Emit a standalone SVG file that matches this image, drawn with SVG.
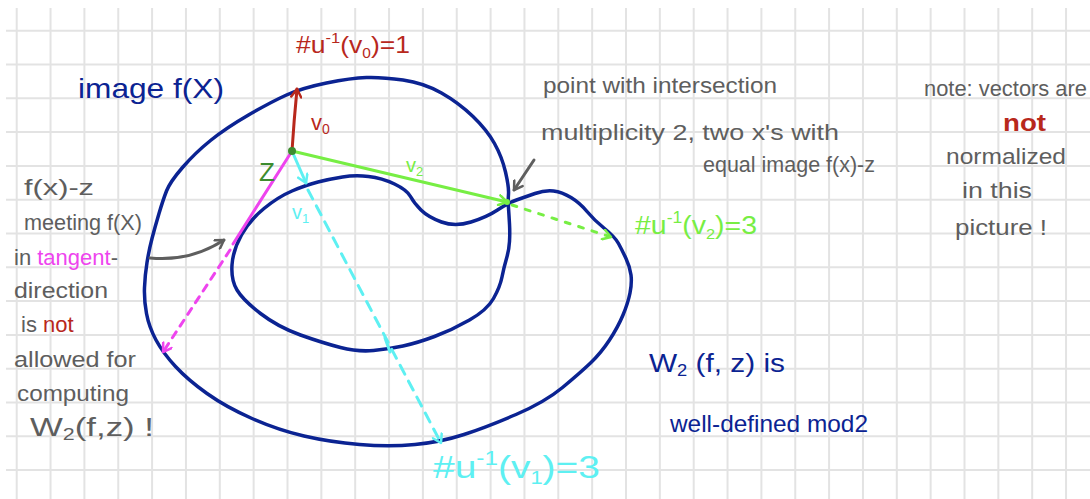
<svg xmlns="http://www.w3.org/2000/svg" width="1090" height="499" viewBox="0 0 1090 499">
<defs>
<style>
.grid{stroke:#e3e3e3;stroke-width:2;fill:none}
.curve{stroke:#0b2392;stroke-width:3.5;fill:none;stroke-linejoin:round;stroke-linecap:round}
.t{font-family:"Liberation Sans","DejaVu Sans",sans-serif}
.gray{fill:#5e5e5e}
.navy{fill:#0b2392}
.red{fill:#b8281c}
.lime{fill:#77ee44}
.cyan{fill:#5ef0f2}
.mag{fill:#ee44ee}
.vec{fill:none;stroke-width:3;stroke-linecap:round}
</style>
<marker id="ar-red" viewBox="0 0 12 12" refX="10" refY="6" markerWidth="12" markerHeight="12" markerUnits="userSpaceOnUse" orient="auto"><path d="M2,1 L10,6 L2,11" fill="none" stroke="#b8281c" stroke-width="2.5" stroke-linecap="round" stroke-linejoin="round"/></marker>
<marker id="ar-lime" viewBox="0 0 12 12" refX="10" refY="6" markerWidth="12" markerHeight="12" markerUnits="userSpaceOnUse" orient="auto"><path d="M2,1 L10,6 L2,11" fill="none" stroke="#77ee44" stroke-width="2.5" stroke-linecap="round" stroke-linejoin="round"/></marker>
<marker id="ar-cyan" viewBox="0 0 12 12" refX="10" refY="6" markerWidth="12" markerHeight="12" markerUnits="userSpaceOnUse" orient="auto"><path d="M2,1 L10,6 L2,11" fill="none" stroke="#5ef0f2" stroke-width="2.5" stroke-linecap="round" stroke-linejoin="round"/></marker>
<marker id="ar-mag" viewBox="0 0 12 12" refX="10" refY="6" markerWidth="12" markerHeight="12" markerUnits="userSpaceOnUse" orient="auto"><path d="M2,1 L10,6 L2,11" fill="none" stroke="#ee44ee" stroke-width="2.5" stroke-linecap="round" stroke-linejoin="round"/></marker>
<marker id="ar-gray" viewBox="0 0 12 12" refX="10" refY="6" markerWidth="12" markerHeight="12" markerUnits="userSpaceOnUse" orient="auto"><path d="M2,1 L10,6 L2,11" fill="none" stroke="#5e5e5e" stroke-width="2.5" stroke-linecap="round" stroke-linejoin="round"/></marker>
</defs>
<rect width="1090" height="499" fill="#ffffff"/>
<g id="grid" class="grid">
<path d="M16.7,8V499M50.55,8V499M84.4,8V499M118.25,8V499M152.1,8V499M185.95,8V499M219.8,8V499M253.65,8V499M287.5,8V499M321.35,8V499M355.2,8V499M389.05,8V499M422.9,8V499M456.75,8V499M490.6,8V499M524.45,8V499M558.3,8V499M592.15,8V499M626,8V499M659.85,8V499M693.7,8V499M727.55,8V499M761.4,8V499M795.25,8V499M829.1,8V499M862.95,8V499M896.8,8V499M930.65,8V499M964.5,8V499M998.35,8V499M1032.2,8V499M1066.05,8V499"/>
<path d="M6,30.7H1090M6,64.5H1090M6,98.3H1090M6,132.1H1090M6,165.9H1090M6,199.7H1090M6,233.5H1090M6,267.3H1090M6,301.1H1090M6,334.9H1090M6,368.7H1090M6,402.5H1090M6,436.3H1090M6,470.1H1090"/>
</g>
<g id="image-curve">
<path class="curve" d="M508.5,208 Q508,201 508.5,194 Q509,187 505.5,172 Q502,157 494.5,143.5 Q487,130 473,116.5 Q459,103 441.5,93 Q424,83 403,80 Q382,77 366.5,77.5 Q351,78 326.5,83 Q302,88 286.5,95 Q271,102 248.5,115 Q226,128 210.5,140.5 Q195,153 182.5,167.5 Q170,182 166.5,191 Q163,200 159,213.5 Q155,227 152,238.5 Q149,250 147,262.5 Q145,275 144.5,287.5 Q144,300 146.5,313.5 Q149,327 156,340 Q163,353 175.5,366.5 Q188,380 207,393.5 Q226,407 252,418.5 Q278,430 304,436 Q330,442 359.5,444.5 Q389,447 415,444.5 Q441,442 464,434.5 Q487,427 516,414.5 Q545,402 562.5,387.5 Q580,373 590.5,363 Q601,353 609.5,340 Q618,327 623,315 Q628,303 630,293 Q632,283 631,275 Q630,267 626,258.5 Q622,250 618.5,243.5 Q615,237 604.5,228.5 Q594,220 587,211.5 Q580,203 571,197.5 Q562,192 553.5,191 Q545,190 535,193.5 Q525,197 516.5,200 Q508,203 497.5,210 Q487,217 471,222 Q455,227 441.5,222 Q428,217 421,210 Q414,203 410.5,196.5 Q407,190 394.5,184 Q382,178 368.5,176.5 Q355,175 342.5,177 Q330,179 318,182 Q306,185 292,191 Q278,197 264,208.5 Q250,220 241.5,235 Q233,250 232,265 Q231,280 237,290 Q243,300 260.5,313.5 Q278,327 300.5,335 Q323,343 340.5,347.5 Q358,352 373.5,350.5 Q389,349 403,346 Q417,343 434.5,336.5 Q452,330 469.5,320 Q487,310 493.5,298.5 Q500,287 502,277 Q504,267 506.5,258.5 Q509,250 509.5,241.5 Q510,233 509.5,224 Q509,215 508.5,208 Z"/>
</g>
<g id="connectors">
<path class="vec" stroke="#b8281c" d="M292,151 Q294,120 297,89" marker-end="url(#ar-red)"/>
<path class="vec" stroke="#77ee44" d="M292,151 L507,202" marker-end="url(#ar-lime)"/>
<path class="vec" stroke="#77ee44" stroke-dasharray="5 9" d="M512,205 L611,237" marker-end="url(#ar-lime)"/>
<path class="vec" stroke="#5ef0f2" d="M292,151 L306,183" marker-end="url(#ar-cyan)"/>
<path class="vec" stroke="#5ef0f2" stroke-dasharray="10 8" d="M308,190 L441,443" marker-end="url(#ar-cyan)"/>
<path class="vec" stroke="#5ef0f2" d="M385,338 L390,352"/>
<path class="vec" stroke="#ee44ee" d="M292,151 L233,244"/>
<path class="vec" stroke="#ee44ee" stroke-dasharray="7 7" d="M230,250 L163,352" marker-end="url(#ar-mag)"/>
<path class="vec" stroke="#5e5e5e" stroke-width="2.5" d="M150,258 Q190,262 224,240" marker-end="url(#ar-gray)"/>
<path class="vec" stroke="#5e5e5e" stroke-width="2.5" d="M534,160 L514,190" marker-end="url(#ar-gray)"/>
<circle cx="292" cy="151" r="4" fill="#3d8c2e"/>
<circle cx="507" cy="202" r="3" fill="#77ee44"/>
</g>
<g id="labels" class="t">
<text class="navy" x="78" y="98" font-size="28" textLength="146" lengthAdjust="spacingAndGlyphs">image f(X)</text>
<text class="red" x="296" y="53" font-size="24" textLength="114" lengthAdjust="spacingAndGlyphs">#u<tspan font-size="15" dy="-10">-1</tspan><tspan dy="10">(v</tspan><tspan font-size="14" dy="5">0</tspan><tspan dy="-5">)=1</tspan></text>
<text class="red" x="311" y="130" font-size="22">v<tspan font-size="14" dy="4">0</tspan></text>
<text x="259" y="181" font-size="26" fill="#3d8c2e">Z</text>
<text class="lime" x="406" y="172" font-size="20">v<tspan font-size="13" dy="4">2</tspan></text>
<text class="cyan" x="292" y="219" font-size="20">v<tspan font-size="13" dy="4">1</tspan></text>
<text class="lime" x="635" y="234" font-size="26" textLength="122" lengthAdjust="spacingAndGlyphs">#u<tspan font-size="16" dy="-11">-1</tspan><tspan dy="11">(v</tspan><tspan font-size="15" dy="5">2</tspan><tspan dy="-5">)=3</tspan></text>
<text class="cyan" x="433" y="478" font-size="32" textLength="167" lengthAdjust="spacingAndGlyphs">#u<tspan font-size="20" dy="-13">-1</tspan><tspan dy="13">(v</tspan><tspan font-size="18" dy="6">1</tspan><tspan dy="-6">)=3</tspan></text>
<g class="gray" font-size="22">
<text x="24" y="195" textLength="70" lengthAdjust="spacingAndGlyphs">f(x)-z</text>
<text x="24" y="230" textLength="118" lengthAdjust="spacingAndGlyphs">meeting f(X)</text>
<text x="14" y="265">in <tspan class="mag">tangent</tspan>-</text>
<text x="14" y="298" textLength="94" lengthAdjust="spacingAndGlyphs">direction</text>
<text x="21" y="332">is <tspan class="red">not</tspan></text>
<text x="14" y="367" textLength="122" lengthAdjust="spacingAndGlyphs">allowed for</text>
<text x="17" y="401" textLength="112" lengthAdjust="spacingAndGlyphs">computing</text>
<text x="30" y="436" font-size="26" textLength="124" lengthAdjust="spacingAndGlyphs">W<tspan font-size="16" dy="4">2</tspan><tspan dy="-4">(f,z) !</tspan></text>
<text x="543" y="93" textLength="234" lengthAdjust="spacingAndGlyphs">point with intersection</text>
<text x="541" y="140" textLength="298" lengthAdjust="spacingAndGlyphs">multiplicity 2, two x's with</text>
<text x="703" y="172" textLength="172" lengthAdjust="spacingAndGlyphs">equal image f(x)-z</text>
<text x="924" y="96" textLength="163" lengthAdjust="spacingAndGlyphs">note: vectors are</text>
<text x="946" y="164" textLength="120" lengthAdjust="spacingAndGlyphs">normalized</text>
<text x="962" y="198" textLength="70" lengthAdjust="spacingAndGlyphs">in this</text>
<text x="955" y="235" textLength="92" lengthAdjust="spacingAndGlyphs">picture !</text>
</g>
<text class="red" x="1003" y="131" font-size="23" font-weight="bold" textLength="43" lengthAdjust="spacingAndGlyphs">not</text>
<text class="navy" x="649" y="372" font-size="26" textLength="136" lengthAdjust="spacingAndGlyphs">W<tspan font-size="16" dy="4">2</tspan><tspan dy="-4"> (f, z) is</tspan></text>
<text class="navy" x="670" y="432" font-size="24" textLength="198" lengthAdjust="spacingAndGlyphs">well-defined mod2</text>
</g>
</svg>
